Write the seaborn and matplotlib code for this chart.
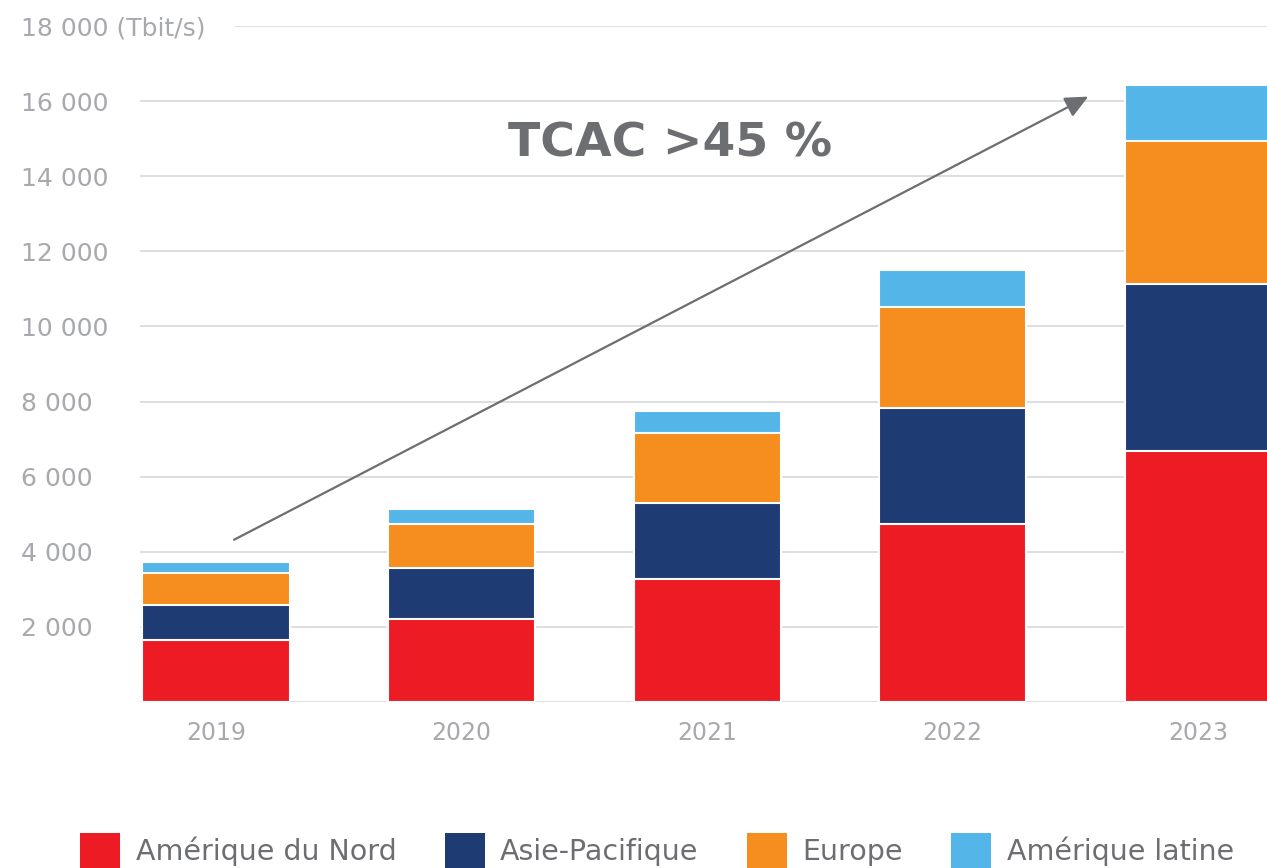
import pandas as pd
import seaborn as sns
import matplotlib.pyplot as plt
from matplotlib.patches import Patch

# Data (Tbit/s)
years = ['2019', '2020', '2021', '2022', '2023']
regions = ['Amérique du Nord', 'Asie-Pacifique', 'Europe', 'Amérique latine']
nord = [1650, 2210, 3280, 4750, 6690]
asie = [940, 1360, 2030, 3090, 4450]
europe = [850, 1170, 1840, 2670, 3810]
latine = [290, 400, 610, 990, 1490]
colors = ['#ed1c24', '#1f3b73', '#f68d1f', '#54b6e8']
yticks = [2000, 4000, 6000, 8000, 10000, 12000, 14000, 16000, 18000]
ytick_labels = ['2 000', '4 000', '6 000', '8 000', '10 000', '12 000',
                '14 000', '16 000', '18 000 (Tbit/s)']

df = pd.DataFrame({'year': years, regions[0]: nord, regions[1]: asie,
                   regions[2]: europe, regions[3]: latine})
# cumulative tops for stacking
cum = df[regions].cumsum(axis=1)
cum['year'] = df['year']

sns.set_style('white')
plt.rcParams['font.family'] = ['DejaVu Sans']

fig = plt.figure(figsize=(12.67, 8.68), dpi=100)
ax = fig.add_axes([140 / 1267, 166 / 868, 1 - 140 / 1267, (702 - 26) / 868])

grid_c = '#d4d4d4'
for t in [0] + yticks:
    xmin = (235 - 140) / 1127 if t == 18000 else 0
    ax.axhline(t, xmin=xmin, xmax=1, color=grid_c, lw=1.1, zorder=0)

# draw from the tallest stack down so each lower layer covers the one above
for i in range(len(regions) - 1, -1, -1):
    sns.barplot(data=cum, x='year', y=regions[i], color=colors[i], width=0.6,
                saturation=1, edgecolor='white', linewidth=1.5, ax=ax, zorder=2)

ax.set_xlim(-0.31, 4.28)
ax.set_ylim(0, 18000)
ax.set_xlabel('')
ax.set_ylabel('')
ax.set_yticks(yticks)
ax.set_yticklabels(ytick_labels)
ax.tick_params(axis='y', length=0, pad=86, labelsize=18, labelcolor='#a7a9ac')
for lab in ax.get_yticklabels():
    lab.set_horizontalalignment('left')
ax.tick_params(axis='x', length=0, pad=14, labelsize=17, labelcolor='#a7a9ac')
for s in ax.spines.values():
    s.set_visible(False)

ax.annotate('', xy=(3.552, 16120), xytext=(0.073, 4320),
            arrowprops=dict(arrowstyle='-|>,head_length=1.4,head_width=0.65',
                            color='#6d6e71', lw=1.6, shrinkA=0, shrinkB=0),
            zorder=3)
ax.text(1.85, 14870, 'TCAC >45 %', fontsize=34, fontweight='bold',
        color='#6d6e71', ha='center', va='center')

handles = [Patch(facecolor=c, edgecolor='none') for c in colors]
leg = fig.legend(handles, regions, loc='upper left',
                 bbox_to_anchor=(80 / 1267, 1 - 833 / 868), ncol=4,
                 frameon=False, fontsize=20.5, borderpad=0, borderaxespad=0,
                 handlelength=1.4, handleheight=1.5, handletextpad=0.55,
                 columnspacing=1.7)
for t in leg.get_texts():
    t.set_color('#6d6e71')

fig.savefig('out.png', dpi=100)
